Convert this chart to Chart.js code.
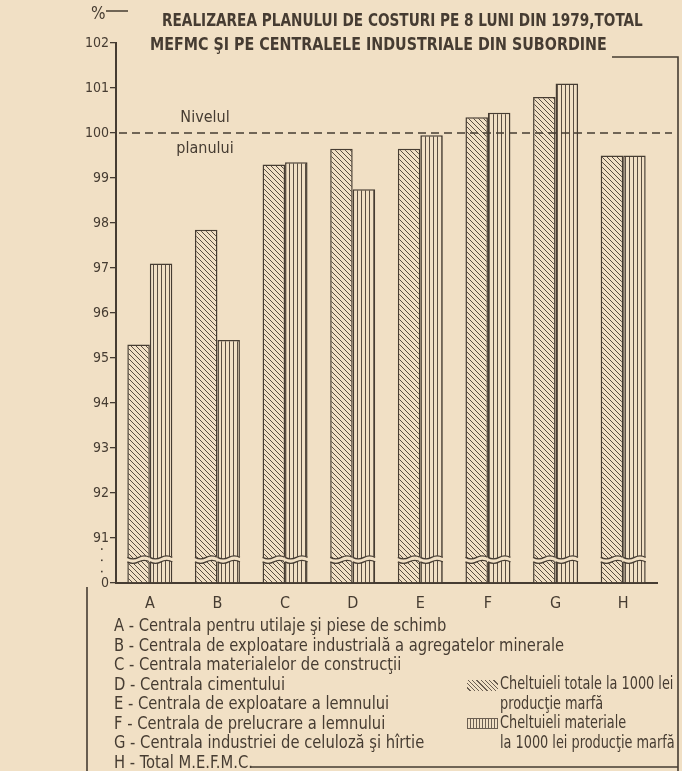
<!DOCTYPE html>
<html>
<head>
<meta charset="utf-8">
<script src="https://cdn.jsdelivr.net/npm/chart.js@4/dist/chart.umd.min.js"></script>
<style>
  body { margin: 0; background: #f1e0c5; }
  #wrap { position: relative; width: 682px; height: 771px; overflow: hidden; background: #f1e0c5; }
  #chart { position: absolute; left: 0; top: 0; }
  .txt { position: absolute; color: #463c32; font-family: "Liberation Sans Narrow", "DejaVu Sans Condensed", "Roboto Condensed", sans-serif; white-space: nowrap; transform-origin: 0 0; }
  .title { font-size: 18px; font-weight: bold; }
  .leg { font-size: 17px; line-height: 19.5px; }
  .sw { position: absolute; width: 31px; height: 11px; }
</style>
</head>
<body>
<div id="wrap">
  <canvas id="chart" width="682" height="771"></canvas>
  <div class="txt" style="left:91px; top:3px; font-size:17px;">%</div>
  <div class="txt title" data-fit="481" style="left:162px; top:9px;">REALIZAREA PLANULUI DE COSTURI PE 8 LUNI DIN 1979,TOTAL</div>
  <div class="txt title" data-fit="457" style="left:150px; top:33px;">MEFMC ŞI PE CENTRALELE INDUSTRIALE DIN SUBORDINE</div>
  <div id="legend" class="txt leg" style="left:114px; top:616px;"></div>
  <div id="legend2" class="txt leg" style="left:500px; top:674px;"></div>
  <div class="sw" style="left:467px; top:680px; background: repeating-linear-gradient(45deg, #f1e0c5 0 2px, #6b5f52 2px 3px);"></div>
  <div class="sw" style="left:467px; top:718px; background: repeating-linear-gradient(90deg, #f1e0c5 0 2px, #6b5f52 2px 3px); border:1px solid #6b5f52; box-sizing:border-box;"></div>
</div>
<script>
const categories = ['A', 'B', 'C', 'D', 'E', 'F', 'G', 'H'];
const categoryNames = [
    'A - Centrala pentru utilaje şi piese de schimb',
    'B - Centrala de exploatare industrială a agregatelor minerale',
    'C - Centrala materialelor de construcţii',
    'D - Centrala cimentului',
    'E - Centrala de exploatare a lemnului',
    'F - Centrala de prelucrare a lemnului',
    'G - Centrala industriei de celuloză şi hîrtie',
    'H - Total M.E.F.M.C.'
];
const totalCosts = [95.3, 97.85, 99.3, 99.65, 99.65, 100.35, 100.8, 99.5];
const materialCosts = [97.1, 95.4, 99.35, 98.75, 99.95, 100.45, 101.1, 99.5];
const seriesNames = ['Cheltuieli totale la 1000 lei producţie marfă', 'Cheltuieli materiale la 1000 lei producţie marfă'];
const seriesLegendLines = ['Cheltuieli totale la 1000 lei', 'producţie marfă', 'Cheltuieli materiale', 'la 1000 lei producţie marfă'];
const yMin = 90;
const yMax = 102;
const baseLabel = '0';
const planLevel = 100;
const planLabel = ['Nivelul', 'planului'];

const INK = '#463c32';
const PAPER = '#f1e0c5';
const FONT = '"Liberation Sans Narrow", "DejaVu Sans Condensed", "Roboto Condensed", sans-serif';

const legend = document.getElementById('legend');
legend.innerHTML = categoryNames.map(n => `<div>${n}</div>`).join('');
const legend2 = document.getElementById('legend2');
legend2.innerHTML = seriesLegendLines.map(n => `<div>${n}</div>`).join('');

// squeeze text horizontally to the widths of the hand lettering
function squeeze(el, width) {
    el.style.transform = `scaleX(${width / el.offsetWidth})`;
}
document.querySelectorAll('[data-fit]').forEach(el => squeeze(el, +el.dataset.fit));
squeeze(legend, 450);
squeeze(legend2, 175);

function makePattern(kind) {
    const c = document.createElement('canvas');
    const s = kind === 'diag' ? 5 : 4;
    c.width = s; c.height = s;
    const g = c.getContext('2d');
    g.fillStyle = PAPER;
    g.fillRect(0, 0, s, s);
    g.strokeStyle = '#5a4e42';
    g.lineWidth = 1;
    g.beginPath();
    if (kind === 'diag') {
        g.moveTo(-1, -1); g.lineTo(s + 1, s + 1);
        g.moveTo(-1, s - 1); g.lineTo(1, s + 1);
        g.moveTo(s - 1, -1); g.lineTo(s + 1, 1);
    } else {
        g.moveTo(1.5, 0); g.lineTo(1.5, s);
    }
    g.stroke();
    return g.createPattern(c, 'repeat');
}

const decor = {
    id: 'decor',
    afterDatasetsDraw(chart) {
        const { ctx, chartArea, scales: { y } } = chart;
        // break in the bars just above the base
        const yTop = y.getPixelForValue(90.57);
        const yBot = y.getPixelForValue(90.47);
        chart.data.datasets.forEach((ds, i) => {
            chart.getDatasetMeta(i).data.forEach(bar => {
                const l = bar.x - bar.width / 2, r = bar.x + bar.width / 2, m = bar.x;
                ctx.save();
                ctx.beginPath();
                ctx.moveTo(l - 1, yTop);
                ctx.quadraticCurveTo((l + m) / 2, yTop + 3, m, yTop);
                ctx.quadraticCurveTo((m + r) / 2, yTop - 3, r + 1, yTop);
                ctx.lineTo(r + 1, yBot);
                ctx.quadraticCurveTo((m + r) / 2, yBot - 3, m, yBot);
                ctx.quadraticCurveTo((l + m) / 2, yBot + 3, l - 1, yBot);
                ctx.closePath();
                ctx.fillStyle = PAPER;
                ctx.fill();
                ctx.strokeStyle = INK;
                ctx.lineWidth = 1.3;
                ctx.beginPath();
                ctx.moveTo(l, yTop);
                ctx.quadraticCurveTo((l + m) / 2, yTop + 3, m, yTop);
                ctx.quadraticCurveTo((m + r) / 2, yTop - 3, r, yTop);
                ctx.moveTo(l, yBot);
                ctx.quadraticCurveTo((l + m) / 2, yBot + 3, m, yBot);
                ctx.quadraticCurveTo((m + r) / 2, yBot - 3, r, yBot);
                ctx.stroke();
                ctx.restore();
            });
        });
        // plan level dashed line
        const yp = y.getPixelForValue(planLevel);
        ctx.save();
        ctx.strokeStyle = INK;
        ctx.lineWidth = 1.6;
        ctx.setLineDash([8, 5]);
        ctx.beginPath();
        ctx.moveTo(chartArea.left + 3, yp);
        ctx.lineTo(672, yp);
        ctx.stroke();
        ctx.setLineDash([]);
        ctx.fillStyle = INK;
        ctx.font = '16px ' + FONT;
        ctx.textAlign = 'center';
        ctx.textBaseline = 'middle';
        ctx.fillText(planLabel[0], 205, yp - 15);
        ctx.fillText(planLabel[1], 205, yp + 16);
        // axis break dots
        const yd1 = y.getPixelForValue(90.75), yd2 = y.getPixelForValue(90.25);
        for (let k = 0; k < 3; k++) {
            ctx.fillRect(101, yd1 + (yd2 - yd1) * k / 2 - 1, 1.6, 1.6);
        }
        ctx.restore();
    },
    afterDraw(chart) {
        const { ctx } = chart;
        ctx.save();
        ctx.strokeStyle = INK;
        ctx.lineWidth = 1.6;
        ctx.beginPath();
        // line after the % sign
        ctx.moveTo(106, 11); ctx.lineTo(128, 11);
        // title underline and right frame
        ctx.moveTo(612, 57); ctx.lineTo(678, 57); ctx.lineTo(678, 771);
        // legend box
        ctx.moveTo(87, 587); ctx.lineTo(87, 771);
        ctx.moveTo(250, 767); ctx.lineTo(678, 767);
        ctx.stroke();
        ctx.restore();
    }
};

new Chart(document.getElementById('chart'), {
    type: 'bar',
    data: {
        labels: categories,
        datasets: [{
            label: seriesNames[0],
            data: totalCosts,
            backgroundColor: makePattern('diag'),
            borderColor: INK,
            borderWidth: 1.5
        }, {
            label: seriesNames[1],
            data: materialCosts,
            backgroundColor: makePattern('vert'),
            borderColor: INK,
            borderWidth: 1.5
        }]
    },
    options: {
        responsive: false,
        animation: false,
        devicePixelRatio: 1,
        layout: { padding: { left: 0, top: 43, right: 25, bottom: 162 } },
        datasets: { bar: { barPercentage: 1, categoryPercentage: 0.665, base: yMin } },
        plugins: { legend: { display: false }, tooltip: { enabled: false } },
        scales: {
            x: {
                grid: { display: false },
                border: { color: INK, width: 2 },
                ticks: { color: INK, font: { family: FONT, size: 16 }, padding: 3 },
                afterFit: s => { s.height = 26; }
            },
            y: {
                min: yMin,
                max: yMax,
                ticks: {
                    stepSize: 1,
                    color: INK,
                    font: { family: FONT, size: 14 },
                    padding: 1,
                    callback: v => v === yMin ? baseLabel : v
                },
                grid: { drawOnChartArea: false, color: INK, lineWidth: 1.3, tickLength: 6 },
                border: { color: INK, width: 2 },
                afterFit: s => { s.width = 116; }
            }
        }
    },
    plugins: [decor]
});
</script>
</body>
</html>
